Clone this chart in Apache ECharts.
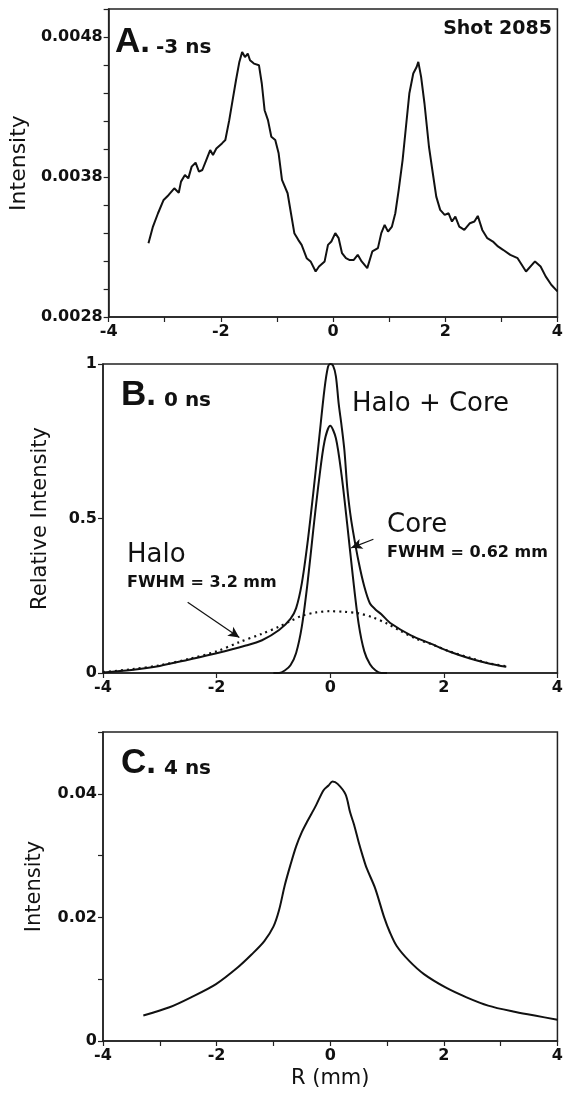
<!DOCTYPE html>
<html>
<head>
<meta charset="utf-8">
<script src="https://cdn.jsdelivr.net/npm/echarts@6/dist/echarts.min.js"></script>
<style>html,body{margin:0;padding:0;background:#fff}#c{width:566px;height:1093px}</style>
</head>
<body>
<div id="c"></div>
<script>
// ---- Panel A (-3 ns) ----
var aX = [-3.29,-3.21,-3.12,-3.02,-2.93,-2.83,-2.75,-2.71,-2.64,-2.58,-2.52,-2.45,-2.39,-2.33,-2.26,-2.19,-2.14,-2.08,-1.98,-1.92,-1.85,-1.79,-1.73,-1.67,-1.62,-1.57,-1.52,-1.48,-1.41,-1.32,-1.27,-1.22,-1.16,-1.10,-1.03,-0.97,-0.91,-0.81,-0.75,-0.69,-0.62,-0.56,-0.47,-0.40,-0.31,-0.25,-0.15,-0.09,-0.03,0.04,0.10,0.16,0.23,0.29,0.37,0.44,0.51,0.61,0.70,0.80,0.86,0.92,0.98,1.05,1.11,1.17,1.24,1.30,1.36,1.43,1.49,1.52,1.57,1.63,1.71,1.77,1.84,1.91,1.99,2.06,2.12,2.18,2.25,2.34,2.44,2.52,2.58,2.66,2.75,2.85,2.94,3.03,3.16,3.29,3.44,3.60,3.70,3.79,3.89,4.00];
var aY = [0.003327,0.003446,0.003541,0.003636,0.003672,0.003719,0.003688,0.003767,0.003814,0.003790,0.003874,0.003902,0.003838,0.003850,0.003921,0.003992,0.003957,0.004004,0.004040,0.004064,0.004206,0.004349,0.004491,0.004622,0.004693,0.004657,0.004681,0.004634,0.004610,0.004598,0.004468,0.004277,0.004206,0.004087,0.004064,0.003969,0.003779,0.003684,0.003541,0.003399,0.003351,0.003315,0.003220,0.003197,0.003125,0.003161,0.003197,0.003315,0.003339,0.003399,0.003363,0.003256,0.003220,0.003208,0.003208,0.003244,0.003197,0.003149,0.003268,0.003292,0.003399,0.003458,0.003410,0.003446,0.003541,0.003707,0.003921,0.004159,0.004396,0.004539,0.004586,0.004622,0.004515,0.004325,0.004016,0.003850,0.003660,0.003565,0.003529,0.003541,0.003482,0.003517,0.003446,0.003422,0.003470,0.003482,0.003522,0.003422,0.003363,0.003339,0.003304,0.003280,0.003244,0.003220,0.003125,0.003197,0.003161,0.003090,0.003030,0.002983];

// ---- Panel B (0 ns) ----
var bTotalX = [-4,-3.5,-3,-2.5,-2,-1.5,-1.2,-0.9,-0.7,-0.6,-0.5,-0.4,-0.3,-0.2,-0.1,-0.04,0,0.05,0.1,0.15,0.2,0.25,0.3,0.35,0.4,0.5,0.6,0.7,0.8,0.9,1.07,1.42,1.77,2.12,2.46,2.81,3.1];
var bTotalY = [0.002,0.01,0.023,0.043,0.064,0.088,0.106,0.139,0.175,0.21,0.29,0.42,0.58,0.75,0.92,0.99,1.0,0.995,0.96,0.87,0.80,0.72,0.60,0.52,0.46,0.36,0.28,0.225,0.205,0.19,0.16,0.122,0.095,0.068,0.047,0.03,0.02];
var bCoreX = [-1,-0.9,-0.8,-0.7,-0.6,-0.5,-0.4,-0.3,-0.2,-0.1,0,0.1,0.2,0.3,0.4,0.5,0.6,0.7,0.8,0.9,1];
var bCoreY = [0,0,0.008,0.025,0.065,0.15,0.29,0.46,0.62,0.75,0.80,0.76,0.64,0.48,0.31,0.16,0.07,0.028,0.008,0,0];
var bHaloX = [-4,-3.5,-3,-2.5,-2,-1.6,-1.2,-0.9,-0.7,-0.5,-0.25,0,0.25,0.5,0.75,1.0,1.2,1.5,1.8,2.1,2.5,2.8,3.1];
var bHaloY = [0.003,0.012,0.025,0.045,0.07,0.10,0.127,0.15,0.168,0.185,0.196,0.2,0.198,0.193,0.18,0.16,0.14,0.112,0.092,0.07,0.047,0.031,0.022];

// ---- Panel C (4 ns) ----
var cX = [-3.29,-2.83,-2.45,-2.01,-1.63,-1.38,-1.16,-1.0,-0.9,-0.8,-0.7,-0.6,-0.5,-0.4,-0.25,-0.12,-0.03,0.04,0.13,0.27,0.35,0.42,0.5,0.57,0.64,0.79,0.95,1.05,1.17,1.39,1.65,2.03,2.40,2.78,3.22,3.60,4.0];
var cY = [0.00412,0.00546,0.00707,0.00921,0.01189,0.01403,0.01617,0.01850,0.02120,0.02520,0.02850,0.03150,0.03380,0.03560,0.03813,0.04054,0.04134,0.04198,0.04161,0.03990,0.03700,0.03500,0.03220,0.03000,0.02800,0.02474,0.02000,0.01760,0.01537,0.01296,0.01082,0.00867,0.00707,0.00573,0.00477,0.00412,0.00343];

// ---- Axis ticks ----
var xMin = -4, xMax = 4;
var aYTicks = {min: 0.0028, max: 0.0050, step: 0.0002, labels: [0.0028, 0.0038, 0.0048]};
var bYTicks = {min: 0, max: 1, step: 0.5};
var cYTicks = {min: 0, max: 0.05, step: 0.01, labels: [0, 0.02, 0.04]};

function zip(xs, ys) { return xs.map(function (x, i) { return [x, ys[i]]; }); }

var FONT = '"DejaVu Sans", sans-serif';
var BIG = '"Liberation Sans", Arial, sans-serif';
var INK = '#111';
var axisLineSt = {show: true, onZero: false, lineStyle: {color: '#222', width: 1.5}};
var tickSt = {show: true, inside: false, length: 5, lineStyle: {color: '#222', width: 1.2}};
var labelBase = {color: INK, fontFamily: FONT, fontWeight: 'bold', fontSize: 16};

function evenLabel(v) { var r = Math.round(v); return (r % 2 === 0) ? String(r) : ''; }
function pickLabel(list, digits) {
  return function (v) {
    for (var i = 0; i < list.length; i++) {
      if (Math.abs(v - list[i]) < 1e-9) return list[i] === 0 ? '0' : list[i].toFixed(digits);
    }
    return '';
  };
}

function xAxis(grid, interval, fmt, name) {
  var ax = {
    type: 'value', gridIndex: grid, min: xMin, max: xMax, interval: interval,
    axisLine: axisLineSt, axisTick: tickSt, splitLine: {show: false},
    axisLabel: Object.assign({margin: 7, formatter: fmt}, labelBase)
  };
  if (name) {
    ax.name = name; ax.nameLocation = 'middle'; ax.nameGap = 27;
    ax.nameTextStyle = {color: INK, fontFamily: FONT, fontSize: 21};
  }
  return ax;
}
function yAxis(grid, t, fmt, name, gap, nameSize) {
  return {
    type: 'value', gridIndex: grid, min: t.min, max: t.max, interval: t.step,
    axisLine: axisLineSt, axisTick: tickSt, splitLine: {show: false},
    axisLabel: Object.assign({margin: 6, formatter: fmt}, labelBase),
    name: name, nameLocation: 'middle', nameGap: gap, nameRotate: 90,
    nameTextStyle: {color: INK, fontFamily: FONT, fontSize: nameSize}
  };
}

var lineSt = {color: INK, width: 2};
function txt(left, top, text, size, bold, family) {
  return {type: 'text', left: left, top: top, silent: true,
    style: {text: text, fill: INK, fontFamily: family || FONT, fontSize: size, fontWeight: bold ? 'bold' : 'normal'}};
}

var chart = echarts.init(document.getElementById('c'), null, {renderer: 'canvas'});
chart.setOption({
  animation: false,
  backgroundColor: '#fff',
  grid: [
    {left: 103, right: 6, top: 9, height: 308, show: true, borderColor: '#222', borderWidth: 1.5},
    {left: 103, right: 6, top: 364, height: 309, show: true, borderColor: '#222', borderWidth: 1.5},
    {left: 103, right: 6, top: 732, height: 309, show: true, borderColor: '#222', borderWidth: 1.5}
  ],
  xAxis: [
    xAxis(0, 1, evenLabel),
    xAxis(1, 2, null),
    xAxis(2, 1, evenLabel, 'R (mm)')
  ],
  yAxis: [
    yAxis(0, aYTicks, pickLabel(aYTicks.labels, 4), 'Intensity', 70, 22),
    yAxis(1, bYTicks, null, 'Relative Intensity', 52, 21),
    yAxis(2, cYTicks, pickLabel(cYTicks.labels, 2), 'Intensity', 58, 21)
  ],
  series: [
    {type: 'line', xAxisIndex: 0, yAxisIndex: 0, data: zip(aX, aY), showSymbol: false, symbol: 'none', lineStyle: lineSt},
    {type: 'line', xAxisIndex: 1, yAxisIndex: 1, data: zip(bTotalX, bTotalY), showSymbol: false, symbol: 'none', smooth: 0.3, lineStyle: lineSt},
    {type: 'line', xAxisIndex: 1, yAxisIndex: 1, data: zip(bCoreX, bCoreY), showSymbol: false, symbol: 'none', smooth: 0.3, lineStyle: lineSt},
    {type: 'line', xAxisIndex: 1, yAxisIndex: 1, data: zip(bHaloX, bHaloY), showSymbol: false, symbol: 'none', smooth: 0.3,
      lineStyle: {color: INK, width: 2.2, type: [2, 4]},
      markLine: {silent: true, symbol: ['none', 'arrow'], symbolSize: [8, 11], animation: false,
        label: {show: false}, lineStyle: {color: INK, width: 1.2, type: 'solid'},
        data: [
          [{coord: [-2.51, 0.229]}, {coord: [-1.6, 0.115]}],
          [{coord: [0.76, 0.433]}, {coord: [0.37, 0.405]}]
        ]}},
    {type: 'line', xAxisIndex: 2, yAxisIndex: 2, data: zip(cX, cY), showSymbol: false, symbol: 'none', smooth: 0.3, lineStyle: lineSt}
  ],
  graphic: [
    txt(115, 25, 'A.', 35, true, BIG),
    txt(156, 38, '-3 ns', 20, true),
    {type: 'text', right: 14, top: 20, silent: true, style: {text: 'Shot 2085', fill: INK, fontFamily: FONT, fontSize: 19, fontWeight: 'bold'}},
    txt(121, 378, 'B.', 35, true, BIG),
    txt(164, 391, '0 ns', 20, true),
    txt(352, 391, 'Halo + Core', 26, false),
    txt(387, 512, 'Core', 26, false),
    txt(387, 545, 'FWHM = 0.62 mm', 16, true),
    txt(127, 542, 'Halo', 26, false),
    txt(127, 575, 'FWHM = 3.2 mm', 16, true),
    txt(121, 746, 'C.', 35, true, BIG),
    txt(164, 759, '4 ns', 20, true)
  ]
});
</script>
</body>
</html>
